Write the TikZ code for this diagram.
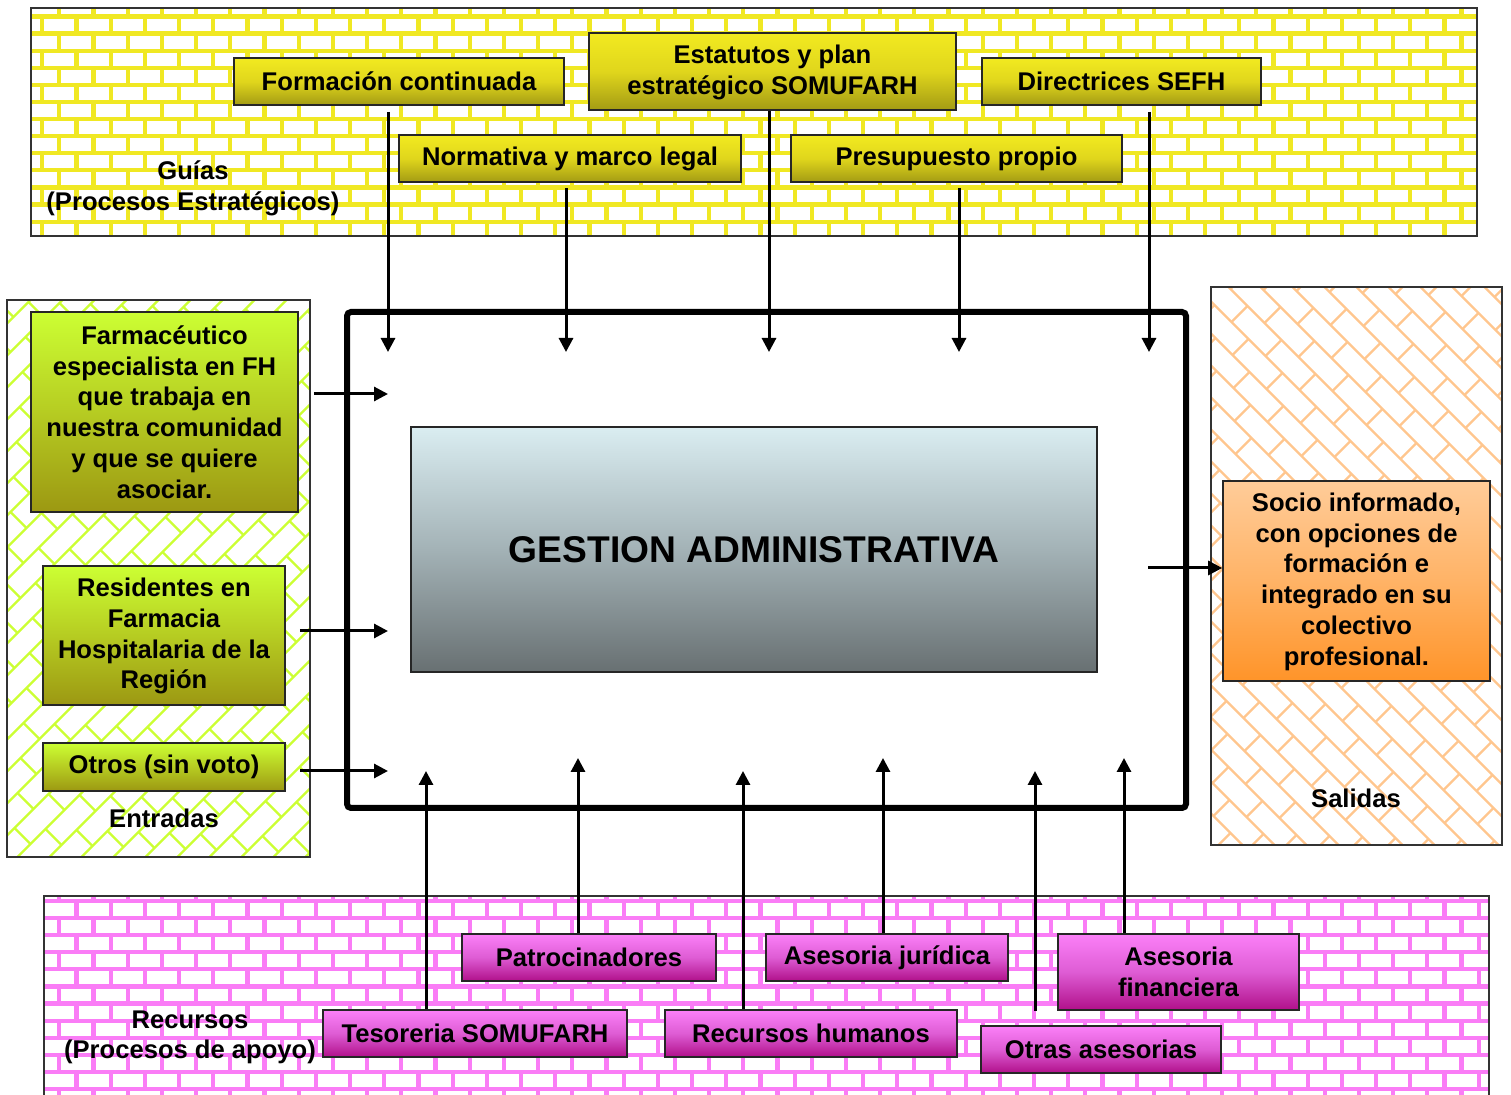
\documentclass[tikz,border=0pt]{standalone}
\usepackage{fontspec}
\setmainfont{Liberation Sans}
\usetikzlibrary{calc,arrows.meta}

\definecolor{mortarY}{HTML}{F0E823}
\definecolor{mortarP}{HTML}{FA7CF6}
\definecolor{limeLine}{HTML}{CCFF33}
\definecolor{peachLine}{HTML}{FFC68E}
\definecolor{yTop}{HTML}{F2EA20}
\definecolor{yMid}{HTML}{E0D61C}
\definecolor{yBot}{HTML}{A39B14}
\definecolor{gTop}{HTML}{CCFF33}
\definecolor{gMid}{HTML}{B6CC22}
\definecolor{gBot}{HTML}{9C9812}
\definecolor{pTop}{HTML}{FB80F8}
\definecolor{pMid}{HTML}{DE5CD4}
\definecolor{pBot}{HTML}{B0108A}
\definecolor{oTop}{HTML}{FFCC99}
\definecolor{oMid}{HTML}{FFB366}
\definecolor{oBot}{HTML}{FF9429}
\definecolor{sTop}{HTML}{DAEDF1}
\definecolor{sMid}{HTML}{A3B2B6}
\definecolor{sBot}{HTML}{687072}

% brick wall: x1,y1,x2,y2, y of first mortar line, colour
\newcommand\brickwall[6]{%
  \begin{scope}
    \clip (#1,#2) rectangle (#3,#4);
    \foreach \k in {0,...,14} {
      \pgfmathsetmacro\ya{#5+17.1*(\k-1)}
      \pgfmathsetmacro\yb{#5+17.1*\k}
      \pgfmathsetmacro\off{mod(\k,2)==0 ? 25.1 : 42.2}
      \draw[#6, line width=2.1pt] (#1-10,\yb) -- (#3+10,\yb);
      \foreach \n in {0,...,43} {
        \draw[#6, line width=2.1pt] (\off+34.2*\n,\ya) -- (\off+34.2*\n,\yb);
      }
    }
  \end{scope}}

% diagonal bricks: x1,y1,x2,y2, colour, direction (1 = falling, -1 = rising)
\newcommand\diagbricks[6]{%
  \begin{scope}
    \clip (#1,#2) rectangle (#3,#4);
    \pgfmathsetmacro\yo{#2-300}
    \pgfmathsetmacro\xc{(#1+#3)/2-(#6)*300}
    \foreach \m in {-30,...,30} {
      \pgfmathsetmacro\xs{\xc+32*\m}
      \pgfmathsetmacro\xe{\xs+(#6)*1000}
      \pgfmathsetmacro\ye{\yo+1000}
      \draw[#5, line width=1.1pt] (\xs,\yo) -- (\xe,\ye);
      \foreach \q in {0,...,29} {
        \pgfmathsetmacro\tt{\m+34*\q}
        \pgfmathsetmacro\px{\xs+(#6)*\tt}
        \pgfmathsetmacro\py{\yo+\tt}
        \pgfmathsetmacro\qx{\px+16}
        \pgfmathsetmacro\qy{\py-(#6)*16}
        \draw[#5, line width=1.1pt] (\px,\py) -- (\qx,\qy);
      }
    }
  \end{scope}}

% shaded box given its corners
\newcommand\bx[7]{%
  \pgfmathsetmacro\cx{(#3+#5)/2}%
  \pgfmathsetmacro\cy{(#4+#6)/2}%
  \pgfmathsetmacro\bw{(#5-#3)*0.5}%
  \pgfmathsetmacro\bh{(#6-#4)*0.5}%
  \node[#1, minimum width=\bw pt, minimum height=\bh pt] (#2) at (\cx,\cy) {#7};}

\tikzset{
  panel/.style={draw=black!80, line width=0.6pt},
  box/.style={draw=black!85, line width=0.8pt, inner sep=0pt, align=center, text=black},
  ybox/.style={box, top color=yTop, bottom color=yBot, middle color=yMid},
  gbox/.style={box, top color=gTop, bottom color=gBot, middle color=gMid},
  pbox/.style={box, top color=pTop, bottom color=pBot, middle color=pMid},
  obox/.style={box, top color=oTop, bottom color=oBot, middle color=oMid},
  sbox/.style={box, top color=sTop, bottom color=sBot, middle color=sMid,
               font=\bfseries\fontsize{18.6}{22}\selectfont},
  frame/.style={draw=black, line width=3pt, rounded corners=2pt, inner sep=0pt},
  lbl/.style={align=center, inner sep=0pt, text=black},
  arr/.style={line width=1.5pt, -{Triangle[length=7pt,width=7pt]}},
  low/.style={text depth=2pt},
}

\begin{document}
\begin{tikzpicture}[x=0.5pt, y=-0.5pt,
  font=\bfseries\fontsize{12.8}{15.4}\selectfont]
\useasboundingbox (0,0) rectangle (1511,1095);
\fill[white] (0,0) rectangle (1511,1095);

% ---------- strategic processes panel (yellow bricks) ----------
\brickwall{31}{8}{1477}{236}{16.5}{mortarY}
\draw[panel] (31,8) rectangle (1477,236);

% ---------- resources panel (pink bricks) ----------
\brickwall{44}{896}{1489}{1100}{901}{mortarP}
\draw[panel] (44,1100) -- (44,896) -- (1489,896) -- (1489,1100);

% ---------- inputs panel (lime diagonal bricks) ----------
\diagbricks{7}{300}{310}{857}{limeLine}{-1}
\draw[panel] (7,300) rectangle (310,857);

% ---------- outputs panel (peach diagonal bricks) ----------
\diagbricks{1211}{287}{1502}{845}{peachLine}{1}
\draw[panel] (1211,287) rectangle (1502,845);

% ---------- process frame and core ----------
\bx{frame}{proc}{347}{312}{1186}{808}{}
\bx{sbox}{gest}{411}{427}{1097}{672}{GESTION ADMINISTRATIVA}

% ---------- guides ----------
\bx{ybox}{form}{234}{58}{564}{105}{Formación continuada}
\bx{ybox,low}{estat}{589}{33}{956}{110}{Estatutos y plan\\estratégico SOMUFARH}
\bx{ybox}{sefh}{982}{58}{1261}{105}{Directrices SEFH}
\bx{ybox}{norm}{399}{135}{741}{182}{Normativa y marco legal}
\bx{ybox}{presu}{791}{135}{1122}{182}{Presupuesto propio}
\node[lbl, font=\bfseries\fontsize{12.8}{15.5}\selectfont] (guias) at (193,188) {Guías\\(Procesos Estratégicos)};

% ---------- inputs ----------
\bx{gbox}{farm}{31}{312}{298}{512}{Farmacéutico\\especialista en FH\\que trabaja en\\nuestra comunidad\\y que se quiere\\asociar.}
\bx{gbox,low}{resid}{43}{566}{285}{705}{Residentes en\\Farmacia\\Hospitalaria de la\\Región}
\bx{gbox}{otros}{43}{743}{285}{791}{Otros (sin voto)}
\node[lbl] (entr) at (164,818) {Entradas};

% ---------- outputs ----------
\bx{obox,low}{socio}{1223}{481}{1490}{681}{Socio informado,\\con opciones de\\formación e\\integrado en su\\colectivo\\profesional.}
\node[lbl] (sal) at (1356,798) {Salidas};

% ---------- resources ----------
\bx{pbox}{patro}{462}{934}{716}{981}{Patrocinadores}
\bx{pbox}{jurid}{766}{934}{1008}{981}{Asesoria jurídica}
\bx{pbox}{finan}{1058}{934}{1299}{1010}{Asesoria\\financiera}
\bx{pbox}{teso}{323}{1010}{627}{1057}{Tesoreria SOMUFARH}
\bx{pbox}{rrhh}{665}{1010}{957}{1057}{Recursos humanos}
\bx{pbox}{otras}{981}{1026}{1221}{1073}{Otras asesorias}
\node[lbl, font=\bfseries\fontsize{12.8}{15}\selectfont] (recur) at (190,1037) {Recursos\\(Procesos de apoyo)};

% ---------- arrow end points inside the process ----------
\coordinate (in1) at (388,352);
\coordinate (in2) at (566,352);
\coordinate (in3) at (769,352);
\coordinate (in4) at (959,352);
\coordinate (in5) at (1149,352);
\coordinate (le1) at (388,394);
\coordinate (le2) at (388,631);
\coordinate (le3) at (388,771);
\coordinate (up1) at (426,771);
\coordinate (up2) at (578,758);
\coordinate (up3) at (743,771);
\coordinate (up4) at (883,758);
\coordinate (up5) at (1035,771);
\coordinate (up6) at (1124,758);
\coordinate (outS) at (1148,568);

% guides -> process
\draw[arr] ($(form.south -| in1)+(0,6)$) -- (in1);
\draw[arr] ($(norm.south -| in2)+(0,5)$) -- (in2);
\draw[arr] (estat.south -| in3) -- (in3);
\draw[arr] ($(presu.south -| in4)+(0,5)$) -- (in4);
\draw[arr] ($(sefh.south -| in5)+(0,6)$) -- (in5);

% inputs -> process
\draw[arr] ($(farm.east |- le1)+(15,0)$) -- (le1);
\draw[arr] ($(resid.east |- le2)+(14,0)$) -- (le2);
\draw[arr] ($(otros.east |- le3)+(14,0)$) -- (le3);

% resources -> process
\draw[arr] (teso.north -| up1) -- (up1);
\draw[arr] (patro.north -| up2) -- (up2);
\draw[arr] (rrhh.north -| up3) -- (up3);
\draw[arr] (jurid.north -| up4) -- (up4);
\draw[arr] ($(otras.north -| up5)+(0,-14)$) -- (up5);
\draw[arr] (finan.north -| up6) -- (up6);

% process -> outputs
\draw[arr] (outS) -- (socio.west |- outS);
\end{tikzpicture}
\end{document}
